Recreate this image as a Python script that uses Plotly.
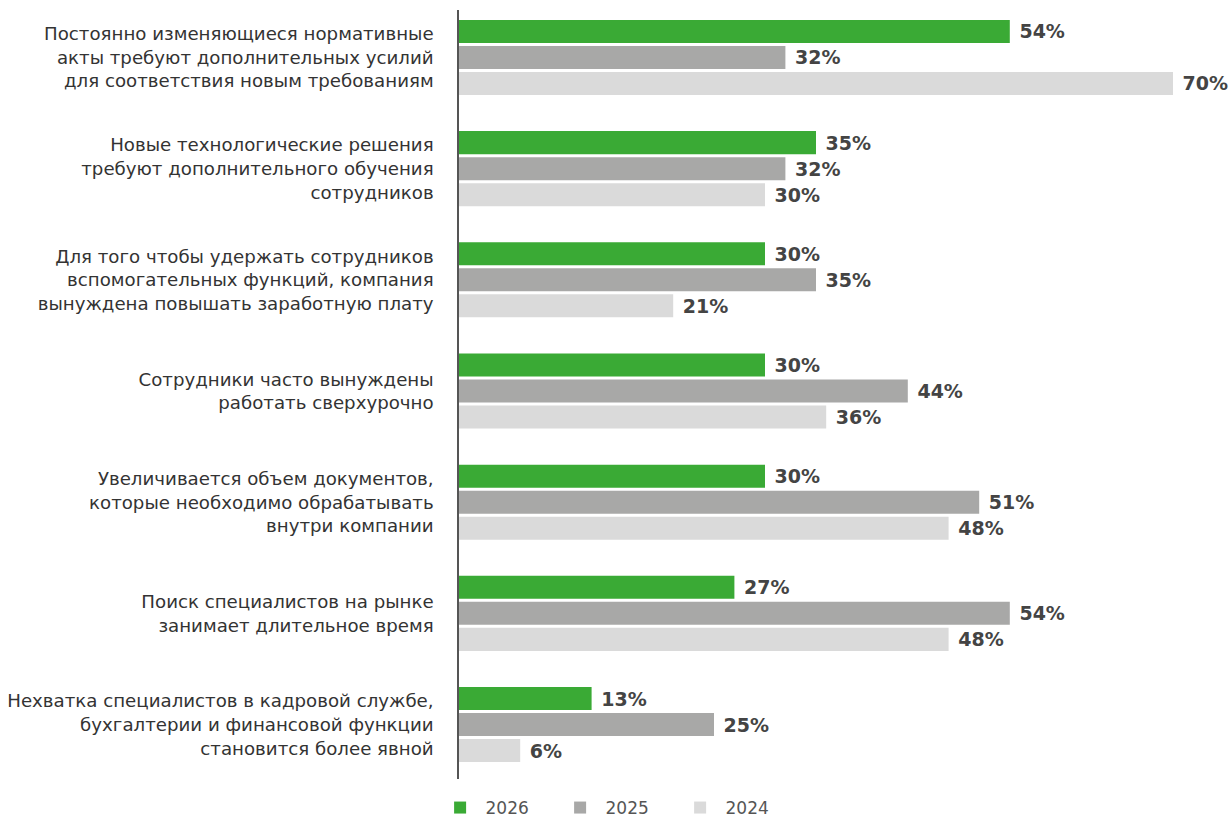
import plotly.graph_objects as go

categories = [
    "Постоянно изменяющиеся нормативные<br>акты требуют дополнительных усилий<br>для соответствия новым требованиям",
    "Новые технологические решения<br>требуют дополнительного обучения<br>сотрудников",
    "Для того чтобы удержать сотрудников<br>вспомогательных функций, компания<br>вынуждена повышать заработную плату",
    "Сотрудники часто вынуждены<br>работать сверхурочно",
    "Увеличивается объем документов,<br>которые необходимо обрабатывать<br>внутри компании",
    "Поиск специалистов на рынке<br>занимает длительное время",
    "Нехватка специалистов в кадровой службе,<br>бухгалтерии и финансовой функции<br>становится более явной",
]

years = ["2026", "2025", "2024"]
values_2026 = [54, 35, 30, 30, 30, 27, 13]
values_2025 = [32, 32, 35, 44, 51, 54, 25]
values_2024 = [70, 30, 21, 36, 48, 48, 6]

series = [values_2026, values_2025, values_2024]
colors = ["#3aaa35", "#a8a8a7", "#dadada"]

FONT = "DejaVu Sans"

fig = go.Figure()
for name, vals, col in zip(years, series, colors):
    fig.add_trace(go.Bar(
        name="\u00a0" + name,
        x=vals,
        y=categories,
        orientation="h",
        marker=dict(color=col, line=dict(width=0)),
        text=["\u00a0" + f"{v}%" for v in vals],
        textposition="outside",
        textfont=dict(family=FONT, size=19, color="#444444", weight="bold"),
        cliponaxis=False,
        hoverinfo="skip",
    ))

fig.update_layout(
    width=1232,
    height=820,
    margin=dict(l=459, r=8, t=10, b=41, autoexpand=False),
    paper_bgcolor="white",
    plot_bgcolor="white",
    barmode="group",
    bargap=0.298,
    bargroupgap=0.115,
    font=dict(family=FONT, color="#333333"),
    showlegend=True,
    legend=dict(
        orientation="h",
        x=-0.0247,
        xanchor="left",
        y=-0.0143,
        yanchor="top",
        font=dict(family=FONT, size=17, color="#555555"),
        entrywidth=75,
        entrywidthmode="pixels",
        traceorder="normal",
    ),
    xaxis=dict(
        range=[0, 75],
        showgrid=False,
        zeroline=False,
        showticklabels=False,
        showline=False,
        ticks="",
    ),
    yaxis=dict(
        type="category",
        categoryorder="array",
        categoryarray=categories,
        range=[6.49, -0.427],
        showgrid=False,
        zeroline=False,
        showline=True,
        linecolor="#555555",
        linewidth=1.5,
        ticks="",
        ticklabelstandoff=20,
        tickfont=dict(family=FONT, size=18.2, color="#333333"),
    ),
)

fig.write_html("out.html")
